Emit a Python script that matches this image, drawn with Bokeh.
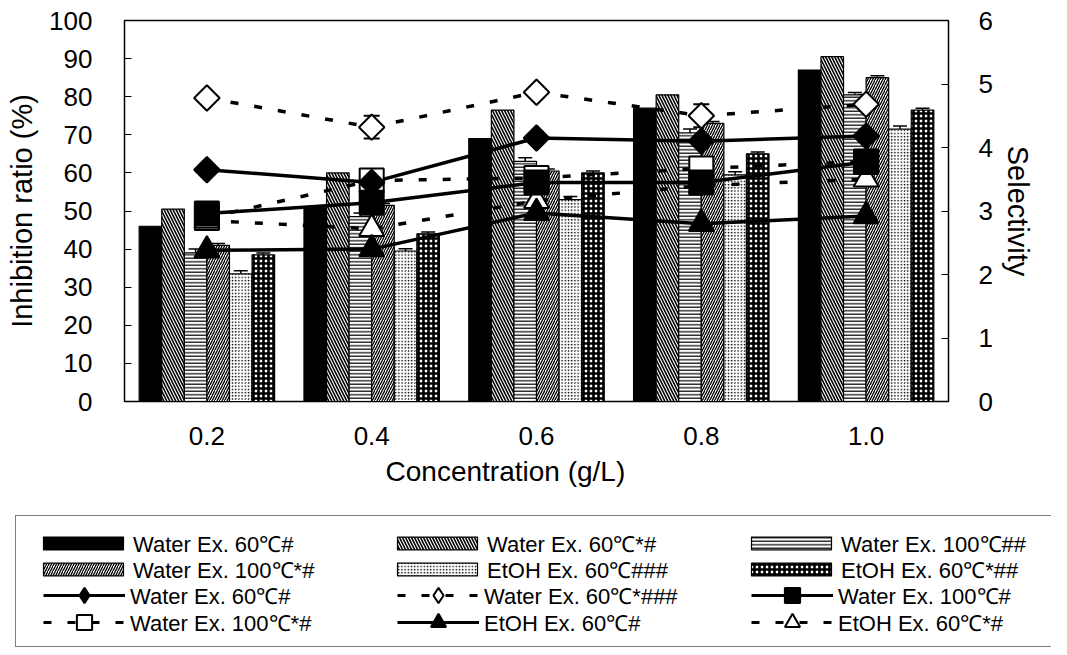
import numpy as np
from bokeh.plotting import figure
from bokeh.layouts import column
from bokeh.models import (ColumnDataSource, Range1d, FactorRange, LinearAxis, FixedTicker,
                          Legend, LegendItem, Whisker, TeeHead)
from bokeh.transform import dodge
from bokeh.embed import file_html
from bokeh.resources import INLINE

# ---------------- data ----------------
concentrations = ["0.2", "0.4", "0.6", "0.8", "1.0"]

# Inhibition ratio (%) - bars
inh_water60 = [46, 51, 69, 77, 87]
inh_water60_s = [50.5, 60, 76.5, 80.5, 90.5]
inh_water100 = [39, 48.5, 63, 70.5, 80.5]
inh_water100_s = [41, 51.5, 60.5, 73, 85]
inh_etoh60 = [33.5, 39.5, 53, 59.5, 71.5]
inh_etoh60_s = [38.5, 44, 60, 65, 76.5]
inh_water100_err = [1.0, 1.0, 1.0, 1.0, 0.6]
inh_water100_s_err = [0.5, 0.5, 0.5, 0.5, 0.5]
inh_etoh60_err = [0.8, 0.6, 0.8, 0.8, 0.8]
inh_etoh60_s_err = [0.5, 0.5, 0.5, 0.5, 0.5]

# Selectivity - lines
sel_water60 = [3.65, 3.45, 4.15, 4.10, 4.18]
sel_water60_s = [4.78, 4.32, 4.87, 4.50, 4.68]
sel_water100 = [2.96, 3.13, 3.45, 3.45, 3.77]
sel_water100_s = [2.89, 3.48, 3.52, 3.67, 3.78]
sel_etoh60 = [2.38, 2.40, 2.97, 2.80, 2.92]
sel_etoh60_s = [2.85, 2.72, 3.16, 3.40, 3.50]
sel_water60_s_err = [0.08, 0.18, 0.08, 0.18, 0.15]

bar_labels = ["Water Ex. 60℃#", "Water Ex. 60℃*#", "Water Ex. 100℃##",
              "Water Ex. 100℃*#", "EtOH Ex. 60℃###", "EtOH Ex. 60℃*##"]
line_labels = ["Water Ex. 60℃#", "Water Ex. 60℃*###", "Water Ex. 100℃#",
               "Water Ex. 100℃*#", "EtOH Ex. 60℃#", "EtOH Ex. 60℃*#"]

FONT = "Liberation Sans"
TICK_FS = "26px"
LEG_FS = "22px"

bar_series = [inh_water60, inh_water60_s, inh_water100, inh_water100_s, inh_etoh60, inh_etoh60_s]
bar_errs = [None, None, inh_water100_err, inh_water100_s_err, inh_etoh60_err, inh_etoh60_s_err]

data = dict(x=concentrations)
for i, s in enumerate(bar_series):
    data[f"b{i}"] = s
    if bar_errs[i] is not None:
        data[f"b{i}_up"] = [v + e for v, e in zip(s, bar_errs[i])]
        data[f"b{i}_lo"] = list(s)
line_series = [sel_water60, sel_water60_s, sel_water100, sel_water100_s, sel_etoh60, sel_etoh60_s]
for i, s in enumerate(line_series):
    data[f"s{i}"] = s
data["s1_up"] = [v + e for v, e in zip(sel_water60_s, sel_water60_s_err)]
data["s1_lo"] = [v - e for v, e in zip(sel_water60_s, sel_water60_s_err)]
src = ColumnDataSource(data)

# ---------------- main figure ----------------
H_MAIN = 512
p = figure(x_range=concentrations, y_range=Range1d(0, 100), width=1051, height=H_MAIN,
           output_backend="svg", toolbar_location=None,
           min_border_left=124, min_border_right=103, min_border_top=20,
           min_border_bottom=H_MAIN - 401)
p.frame_align = False
p.extra_y_ranges = {"sel": Range1d(0, 6)}
p.xgrid.visible = False
p.ygrid.visible = False
p.outline_line_color = "black"
p.outline_line_width = 1.5


def style_axis(ax, label, tick_standoff, label_standoff, label_fs):
    ax.axis_label = label
    ax.axis_label_text_font = FONT
    ax.axis_label_text_font_style = "normal"
    ax.axis_label_text_font_size = label_fs
    ax.axis_label_text_color = "black"
    ax.axis_label_standoff = label_standoff
    ax.major_label_text_font = FONT
    ax.major_label_text_font_size = TICK_FS
    ax.major_label_text_color = "black"
    ax.major_label_standoff = tick_standoff
    ax.minor_tick_line_color = None
    ax.axis_line_color = "black"
    ax.major_tick_line_color = "black"
    ax.major_tick_out = 0


ya = p.yaxis[0]
ya.ticker = FixedTicker(ticks=list(range(0, 101, 10)))
style_axis(ya, "Inhibition ratio (%)", 32, 8, "29px")
ya.major_tick_in = 7

ra = LinearAxis(y_range_name="sel", ticker=FixedTicker(ticks=list(range(0, 7))))
style_axis(ra, "Selectivity", 30, 6, "29px")
ra.major_tick_in = 7
p.add_layout(ra, "right")

xa = p.xaxis[0]
style_axis(xa, "Concentration (g/L)" + "\u00a0" * 8, 25, 8, "28px")
xa.major_tick_line_color = None
xa.major_tick_in = 0

# ---------------- bars ----------------
bw = 0.137
offsets = [(i - 2.5) * bw for i in range(6)]
bar_styles = [
    dict(fill_color="black"),
    dict(fill_color="white", hatch_pattern="left_diagonal_line", hatch_color="black",
         hatch_scale=6, hatch_weight=1.6),
    dict(fill_color="white", hatch_pattern="horizontal_line", hatch_color="black",
         hatch_scale=3.5, hatch_weight=1.2),
    dict(fill_color="white", hatch_pattern="right_diagonal_line", hatch_color="black",
         hatch_scale=5, hatch_weight=1.3),
    dict(fill_color="white", hatch_pattern="dot", hatch_color="black",
         hatch_scale=3.2, hatch_weight=1.1),
    dict(fill_color="white", hatch_pattern="cross", hatch_color="black",
         hatch_scale=5, hatch_weight=2.6),
]
for i in range(6):
    off = offsets[i]
    p.vbar(x=dodge("x", off, range=p.x_range), top=f"b{i}", width=bw, source=src,
           line_color="black", line_width=1.2, **bar_styles[i])
    if bar_errs[i] is not None:
        p.add_layout(Whisker(base=dodge("x", off, range=p.x_range), upper=f"b{i}_up",
                             lower=f"b{i}_lo", source=src, line_color="black", line_width=1.5,
                             upper_head=TeeHead(size=14, line_width=1.5, line_color="black"),
                             lower_head=None))

# ---------------- lines ----------------
DASH = "8 16"
line_specs = [
    # (col, dash, marker, angle, size, fill)
    ("s0", "solid", "square", np.pi / 4, 18, "black"),
    ("s1", DASH, "square", np.pi / 4, 18, "white"),
    ("s2", "solid", "square", 0, 24, "black"),
    ("s3", DASH, "square", 0, 24, "white"),
    ("s4", "solid", "triangle", 0, 25, "black"),
    ("s5", DASH, "triangle", 0, 25, "white"),
]
for col, dash, marker, ang, size, fill in line_specs:
    p.line(x="x", y=col, source=src, y_range_name="sel", line_color="black",
           line_width=3.5, line_dash=dash)
# open markers first, filled markers on top
for col, dash, marker, ang, size, fill in [s for s in line_specs if s[5] == "white"] + \
        [s for s in line_specs if s[5] == "black"]:
    p.scatter(x="x", y=col, source=src, y_range_name="sel", marker=marker, angle=ang,
              size=size, fill_color=fill, line_color="black", line_width=2)
    if col == "s1":
        p.add_layout(Whisker(base="x", upper="s1_up", lower="s1_lo", source=src,
                             y_range_name="sel", line_color="black", line_width=2,
                             upper_head=TeeHead(size=16, line_width=2, line_color="black"),
                             lower_head=TeeHead(size=16, line_width=2, line_color="black")))

# ---------------- legend figure ----------------
# Hidden copies of the series; only their legend entries are shown.
H_LEG = 137
lp = figure(width=1051, height=H_LEG, x_range=FactorRange(*concentrations),
            y_range=Range1d(0, 100), x_axis_type=None, y_axis_type=None,
            toolbar_location=None, output_backend="svg", min_border=0,
            outline_line_color=None)
lp.frame_align = False
lp.xgrid.visible = False
lp.ygrid.visible = False

bar_leg_r = [lp.vbar(x="x", top=f"b{i}", width=bw, source=src, line_color="black",
                     line_width=1.2, visible=False, **bar_styles[i]) for i in range(6)]
legend_marker = {"s0": ("diamond", "black"), "s1": ("diamond", "white"),
                 "s2": ("square", "black"), "s3": ("square", "white"),
                 "s4": ("triangle", "black"), "s5": ("triangle", "white")}
line_leg_items = []
for (col, dash, marker, ang, size, fill), lab in zip(line_specs, line_labels):
    lr = lp.line(x="x", y=col, source=src, line_color="black", line_width=3, line_dash=dash,
                 visible=False)
    mk, mf = legend_marker[col]
    mr = lp.scatter(x="x", y=col, source=src, marker=mk, fill_color=mf, line_color="black",
                    line_width=2, visible=False)
    line_leg_items.append(LegendItem(label=lab, renderers=[lr, mr], index=0))

box_r = lp.scatter(x="x", y="s0", source=src, fill_alpha=0, line_alpha=0, visible=False)
lp.add_layout(Legend(items=[LegendItem(label=" ", renderers=[box_r], index=0)],
                     location=(15, 2), glyph_width=1100, glyph_height=130,
                     label_width=0, label_standoff=0, padding=0, margin=0,
                     border_line_color="black", border_line_width=1.2,
                     background_fill_color="white", background_fill_alpha=1,
                     inactive_fill_alpha=0, label_text_font_size="2px"))

common = dict(orientation="horizontal", ncols=3, padding=0, margin=0, spacing=2,
              border_line_color=None, background_fill_alpha=0, label_height=30,
              inactive_fill_alpha=0,
              label_text_font=FONT, label_text_font_size=LEG_FS, label_text_color="black")
bar_items = [LegendItem(label=l, renderers=[r], index=0) for l, r in zip(bar_labels, bar_leg_r)]
for k in range(2):
    lp.add_layout(Legend(items=bar_items[3 * k:3 * k + 3], location=(33, [91, 65][k]),
                         glyph_width=100, glyph_height=16, label_width=252,
                         label_standoff=0, **common))
for k in range(2):
    lp.add_layout(Legend(items=line_leg_items[3 * k:3 * k + 3], location=(43, [35, 8][k]),
                         glyph_width=82, glyph_height=38, label_width=265,
                         label_standoff=5, **common))

layout = column(p, lp, spacing=0)
open("out.html", "w").write(file_html(layout, INLINE))
